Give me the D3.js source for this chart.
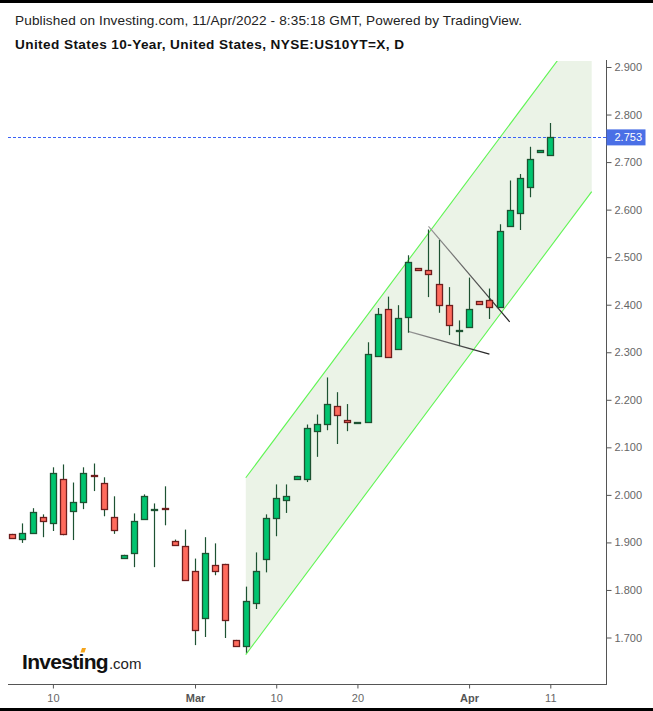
<!DOCTYPE html>
<html><head><meta charset="utf-8">
<script src="https://cdn.jsdelivr.net/npm/d3@7"></script>
<style>body{margin:0;background:#fff}svg{display:block}</style>
</head><body>
<script>
const dates = ["2022-02-06","2022-02-07","2022-02-08","2022-02-09","2022-02-10","2022-02-11","2022-02-14","2022-02-15","2022-02-16","2022-02-17","2022-02-18","2022-02-21","2022-02-22","2022-02-23","2022-02-24","2022-02-25","2022-02-27","2022-02-28","2022-03-01","2022-03-02","2022-03-03","2022-03-04","2022-03-06","2022-03-07","2022-03-08","2022-03-09","2022-03-10","2022-03-11","2022-03-13","2022-03-14","2022-03-15","2022-03-16","2022-03-17","2022-03-18","2022-03-20","2022-03-21","2022-03-22","2022-03-23","2022-03-24","2022-03-25","2022-03-27","2022-03-28","2022-03-29","2022-03-30","2022-03-31","2022-04-01","2022-04-03","2022-04-04","2022-04-05","2022-04-06","2022-04-07","2022-04-08","2022-04-10","2022-04-11"];
const opens  = [1.918,1.907,1.920,1.954,1.939,2.034,1.967,1.984,2.041,2.024,1.954,1.868,1.876,1.950,1.970,1.973,1.904,1.893,1.840,1.741,1.853,1.855,1.695,1.683,1.773,1.866,1.952,1.990,2.034,2.034,2.135,2.150,2.186,2.158,2.154,2.154,2.293,2.392,2.306,2.373,2.477,2.474,2.443,2.400,2.345,2.352,2.407,2.409,2.394,2.566,2.593,2.648,2.720,2.715];
const highs  = [1.918,1.940,1.972,1.959,2.058,2.064,2.026,2.058,2.066,2.037,1.997,1.874,1.961,2.001,1.982,2.018,1.906,1.927,1.866,1.911,1.898,1.855,1.695,1.807,1.879,1.959,2.022,2.022,2.040,2.148,2.169,2.247,2.216,2.191,2.154,2.321,2.393,2.417,2.399,2.504,2.477,2.558,2.536,2.437,2.367,2.457,2.407,2.434,2.569,2.661,2.675,2.732,2.725,2.782];
const lows   = [1.910,1.899,1.920,1.911,1.924,1.915,1.905,1.970,2.008,1.955,1.918,1.868,1.848,1.950,1.848,1.936,1.895,1.819,1.684,1.701,1.831,1.699,1.683,1.668,1.760,1.837,1.913,1.962,2.034,2.027,2.080,2.136,2.107,2.134,2.154,2.154,2.293,2.288,2.306,2.341,2.472,2.416,2.383,2.336,2.313,2.352,2.400,2.370,2.394,2.566,2.557,2.626,2.720,2.713];
const closes = [1.910,1.920,1.965,1.946,2.045,1.918,1.986,2.045,2.040,1.969,1.927,1.874,1.944,1.998,1.971,1.971,1.895,1.821,1.716,1.878,1.840,1.737,1.683,1.777,1.840,1.952,1.994,1.998,2.040,2.141,2.150,2.192,2.167,2.154,2.154,2.297,2.381,2.290,2.371,2.489,2.472,2.466,2.398,2.358,2.346,2.390,2.400,2.394,2.554,2.599,2.666,2.706,2.725,2.753];

const xTickIndex = [4,18,26,34,45,53];
const xTickLabels = ["10","Mar","10","20","Apr","11"];
const yTickValues = [1.7,1.8,1.9,2.0,2.1,2.2,2.3,2.4,2.5,2.6,2.7,2.8,2.9];
const lastPrice = 2.753;

const channelIdx = [23, 57.08];
const channelUpper = [2.036, 3.010];
const channelLower = [1.664, 2.638];
const wedgeUpperIdx = [41, 49];
const wedgeUpperVal = [2.565, 2.364];
const wedgeLowerIdx = [39, 47];
const wedgeLowerVal = [2.344, 2.296];

const W = 653, H = 711;
const plot = {left: 8, right: 606.5, top: 61, bottom: 684};
const UP_FILL = "#00c46f", DN_FILL = "#ff6b5d", UP_LINE = "#1d5232", DN_LINE = "#6e1d1d", WICK = "#1d5232";
const FONT = "Liberation Sans, Arial, sans-serif";

const svg = d3.select("body").append("svg").attr("width", W).attr("height", H);
svg.append("rect").attr("width", W).attr("height", H).attr("fill", "#fff");
svg.append("rect").attr("width", W).attr("height", 3).attr("fill", "#000");
svg.append("rect").attr("y", 708).attr("width", W).attr("height", 3).attr("fill", "#000");

svg.append("text").attr("x", 15).attr("y", 25).attr("font-family", FONT)
  .attr("font-size", 13.6).attr("fill", "#222").attr("textLength", 507).attr("lengthAdjust", "spacing")
  .text("Published on Investing.com, 11/Apr/2022 - 8:35:18 GMT, Powered by TradingView.");
svg.append("text").attr("x", 15).attr("y", 49).attr("font-family", FONT)
  .attr("font-size", 13.6).attr("font-weight", "bold").attr("fill", "#111").attr("textLength", 389).attr("lengthAdjust", "spacing")
  .text("United States 10-Year, United States, NYSE:US10YT=X, D");

const x = d3.scaleLinear().domain([0, 53]).range([12.3, 550.3]);
const y = d3.scaleLinear().domain([1.7, 2.9]).range([637.5, 67]);

const defs = svg.append("defs");
defs.append("clipPath").attr("id", "clip").append("rect")
  .attr("x", plot.left).attr("y", plot.top).attr("width", plot.right - plot.left).attr("height", plot.bottom - plot.top);

const g = svg.append("g").attr("clip-path", "url(#clip)");

// channel
const chPoly = [[x(channelIdx[0]), y(channelUpper[0])], [x(channelIdx[1]), y(channelUpper[1])],
                [x(channelIdx[1]), y(channelLower[1])], [x(channelIdx[0]), y(channelLower[0])]];
g.append("path").attr("d", "M" + chPoly.join("L") + "Z").attr("fill", "#ebf3e7");
const line = d3.line().x(d => x(d[0])).y(d => y(d[1]));
g.append("path").attr("d", line(channelIdx.map((c, i) => [c, channelUpper[i]])))
  .attr("stroke", "#5ff553").attr("stroke-width", 1.1).attr("fill", "none");
g.append("path").attr("d", line(channelIdx.map((c, i) => [c, channelLower[i]])))
  .attr("stroke", "#5ff553").attr("stroke-width", 1.1).attr("fill", "none");

// wedge lines
const grad = defs.append("linearGradient").attr("id", "wg").attr("x1", "0%").attr("x2", "100%");
grad.append("stop").attr("offset", "0%").attr("stop-color", "#999");
grad.append("stop").attr("offset", "100%").attr("stop-color", "#222");
g.append("path").attr("d", line(wedgeUpperIdx.map((c, i) => [c, wedgeUpperVal[i]])))
  .attr("stroke", "url(#wg)").attr("stroke-width", 1.2).attr("fill", "none");
g.append("path").attr("d", line(wedgeLowerIdx.map((c, i) => [c, wedgeLowerVal[i]])))
  .attr("stroke", "url(#wg)").attr("stroke-width", 1.2).attr("fill", "none");

// last price line
g.append("line").attr("x1", plot.left).attr("x2", plot.right).attr("y1", Math.round(y(lastPrice)) + 0.5).attr("y2", Math.round(y(lastPrice)) + 0.5)
  .attr("stroke", "#3a62f5").attr("stroke-width", 1.2).attr("stroke-dasharray", "3,2").attr("shape-rendering", "crispEdges");

// candles
const candles = dates.map((d, i) => ({d, i, o: opens[i], h: highs[i], l: lows[i], c: closes[i]}));
const cg = g.selectAll("g.c").data(candles).enter().append("g");
cg.append("line")
  .attr("x1", d => Math.round(x(d.i)) + 0.5).attr("x2", d => Math.round(x(d.i)) + 0.5)
  .attr("y1", d => y(d.h)).attr("y2", d => y(d.l))
  .attr("stroke", WICK).attr("stroke-width", 1.2);
cg.append("rect")
  .attr("x", d => Math.round(x(d.i)) - 2.5).attr("width", 6)
  .attr("y", d => Math.round(y(Math.max(d.o, d.c))) + 0.5)
  .attr("height", d => Math.max(1, Math.round(Math.abs(y(d.o) - y(d.c)))))
  .attr("fill", d => d.c >= d.o ? UP_FILL : DN_FILL)
  .attr("stroke", d => d.c >= d.o ? UP_LINE : DN_LINE).attr("stroke-width", 1.3);

// axes
const axG = svg.append("g");
axG.append("line").attr("x1", plot.left).attr("x2", plot.right).attr("y1", plot.bottom + 0.5).attr("y2", plot.bottom + 0.5)
  .attr("stroke", "#555").attr("stroke-width", 1);
axG.append("line").attr("x1", plot.right).attr("x2", plot.right).attr("y1", plot.top - 1).attr("y2", plot.bottom + 1)
  .attr("stroke", "#555").attr("stroke-width", 1);

const yAxis = d3.axisRight(y).tickValues(yTickValues).tickFormat(d3.format(".3f")).tickSize(5).tickPadding(3);
const ya = svg.append("g").attr("transform", `translate(${plot.right},0)`).call(yAxis);
ya.select(".domain").remove();
ya.selectAll("line").attr("stroke", "#555");
ya.selectAll("text").attr("font-family", FONT).attr("font-size", 11).attr("fill", "#666");

const xAxis = d3.axisBottom(x).tickValues(xTickIndex).tickFormat((d, i) => xTickLabels[i]).tickSize(4).tickPadding(6);
const xa = svg.append("g").attr("transform", `translate(0,${plot.bottom + 0.5})`).call(xAxis);
xa.select(".domain").remove();
xa.selectAll("line").attr("stroke", "#555");
xa.selectAll("text").attr("font-family", FONT).attr("font-size", 11)
  .attr("fill", (d, i) => /[A-Za-z]/.test(xTickLabels[i]) ? "#555" : "#666")
  .attr("font-weight", (d, i) => /[A-Za-z]/.test(xTickLabels[i]) ? "bold" : "normal");

// last price label
const ly = y(lastPrice);
svg.append("rect").attr("x", plot.right).attr("y", ly - 7.5).attr("width", 39).attr("height", 16).attr("fill", "#4a6fe6");
svg.append("text").attr("x", plot.right + 8).attr("y", ly + 4.5).attr("font-family", FONT)
  .attr("font-size", 11).attr("fill", "#fff").text(d3.format(".3f")(lastPrice));

// logo
const logo = svg.append("text").attr("x", 22).attr("y", 669).attr("font-family", FONT);
logo.append("tspan").attr("font-size", 21).attr("font-weight", "bold").attr("letter-spacing", -0.7).attr("fill", "#111").text("Investing");
logo.append("tspan").attr("font-size", 15).attr("fill", "#222").attr("dx", 1).text(".com");
svg.append("path").attr("d", "M82,648 L86,648 L84.5,652.5 L80.5,652.5 Z").attr("fill", "#f4a41c");
</script>
</body></html>
